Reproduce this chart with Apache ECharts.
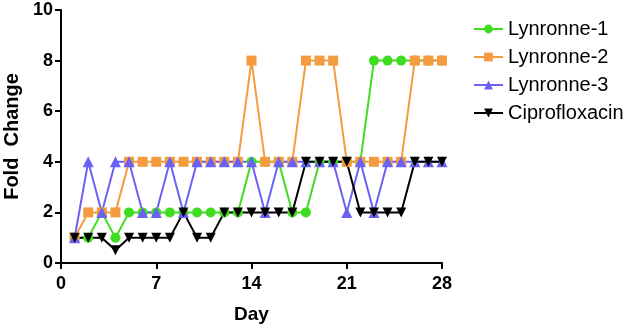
<!DOCTYPE html>
<html>
<head>
<meta charset="utf-8">
<script src="https://cdn.jsdelivr.net/npm/echarts@6/dist/echarts.min.js"></script>
<style>
  html, body { margin: 0; padding: 0; background: #fff; }
  #chart { width: 633px; height: 325px; }
</style>
</head>
<body>
<div id="chart"></div>
<script>
// days 1..28
var days = [1,2,3,4,5,6,7,8,9,10,11,12,13,14,15,16,17,18,19,20,21,22,23,24,25,26,27,28];
var lynronne1 = [1,1,2,1,2,2,2,2,2,2,2,2,2,4,4,4,2,2,4,4,4,4,8,8,8,8,8,8];
var lynronne2 = [1,2,2,2,4,4,4,4,4,4,4,4,4,8,4,4,4,8,8,8,4,4,4,4,4,8,8,8];
var lynronne3 = [1,4,2,4,4,2,2,4,2,4,4,4,4,4,2,4,4,4,4,4,2,4,2,4,4,4,4,4];
var cipro     = [1,1,1,0.5,1,1,1,1,2,1,1,2,2,2,2,2,2,4,4,4,4,2,2,2,2,4,4,4];

var xTicks = [0, 7, 14, 21, 28];
var yTicks = [0, 2, 4, 6, 8, 10];

function pairs(vals) {
  var out = [];
  for (var i = 0; i < days.length; i++) {
    out.push([days[i], vals[i]]);
  }
  return out;
}

var downTri = 'path://M0,0 L10,0 L5,9 Z';

function makeSeries(name, vals, color, symbol, size) {
  return {
    name: name,
    type: 'line',
    data: pairs(vals),
    symbol: symbol,
    symbolSize: size,
    showAllSymbol: true,
    lineStyle: { color: color, width: 2 },
    itemStyle: { color: color },
    emphasis: { disabled: true },
    animation: false
  };
}

var myChart = echarts.init(document.getElementById('chart'));
var axisFont = { fontFamily: 'Liberation Sans, Arial', fontWeight: 'bold', fontSize: 18, color: '#000' };
var nameFont = { fontFamily: 'Liberation Sans, Arial', fontWeight: 'bold', fontSize: 19, color: '#000' };
var option = {
  animation: false,
  grid: { left: 61, right: 191, top: 10, bottom: 62, containLabel: false, outerBoundsMode: 'none' },
  legend: {
    orient: 'vertical',
    left: 468,
    top: 14,
    itemWidth: 29,
    itemHeight: 11,
    itemGap: 8,
    textStyle: { fontFamily: 'Liberation Sans, Arial', fontSize: 20, color: '#000' },
    data: ['Lynronne-1', 'Lynronne-2', 'Lynronne-3', 'Ciprofloxacin']
  },
  xAxis: {
    type: 'value',
    min: xTicks[0],
    max: xTicks[xTicks.length - 1],
    interval: 7,
    name: 'Day',
    nameLocation: 'middle',
    nameGap: 42,
    nameTextStyle: nameFont,
    axisLine: { onZero: false, lineStyle: { color: '#000', width: 2 } },
    axisTick: { show: true, length: 6, lineStyle: { color: '#000', width: 2 } },
    axisLabel: Object.assign({ margin: 12 }, axisFont),
    splitLine: { show: false }
  },
  yAxis: {
    type: 'value',
    min: yTicks[0],
    max: yTicks[yTicks.length - 1],
    interval: 2,
    name: 'Fold  Change',
    nameLocation: 'middle',
    nameGap: 37,
    nameTextStyle: { fontFamily: 'Liberation Sans, Arial', fontWeight: 'bold', fontSize: 20, color: '#000' },
    axisLine: { show: true, lineStyle: { color: '#000', width: 2 } },
    axisTick: { show: true, length: 6, lineStyle: { color: '#000', width: 2 } },
    axisLabel: Object.assign({ margin: 8 }, axisFont),
    splitLine: { show: false }
  },
  series: [
    makeSeries('Lynronne-1', lynronne1, '#3fdc22', 'circle', 10),
    makeSeries('Lynronne-2', lynronne2, '#f59b3f', 'rect', 10),
    makeSeries('Lynronne-3', lynronne3, '#6a62f5', 'triangle', 11),
    makeSeries('Ciprofloxacin', cipro, '#000000', downTri, 10)
  ]
};
myChart.setOption(option);
</script>
</body>
</html>
